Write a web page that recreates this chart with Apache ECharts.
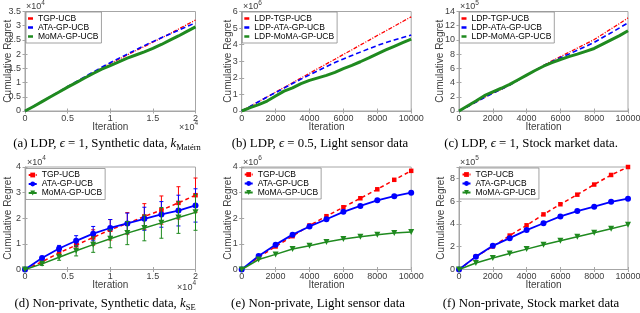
<!DOCTYPE html>
<html><head><meta charset="utf-8">
<script src="https://cdn.jsdelivr.net/npm/echarts@6/dist/echarts.min.js"></script>
<style>html,body{margin:0;padding:0;background:#fff}#c{width:640px;height:313px}</style>
</head><body><div id="c"></div>
<script>
// ---------------- data ----------------
// (a) LDP, synthetic (x in 1e4, y in 1e4)
const xA = [0,0.1,0.2,0.3,0.4,0.5,0.6,0.7,0.8,0.9,1.0,1.1,1.2,1.3,1.4,1.5,1.6,1.7,1.8,1.9,2.0];
const aTGP  = [0,0.16,0.33,0.5,0.67,0.84,1.01,1.18,1.35,1.51,1.67,1.82,1.97,2.12,2.27,2.42,2.57,2.72,2.88,3.04,3.2];
const aATA  = [0,0.17,0.34,0.51,0.68,0.86,1.03,1.2,1.37,1.54,1.7,1.85,2.0,2.15,2.3,2.44,2.58,2.71,2.84,2.97,3.1];
const aMoMA = [0,0.16,0.33,0.5,0.67,0.84,1.0,1.16,1.32,1.47,1.6,1.73,1.86,1.97,2.08,2.2,2.34,2.49,2.64,2.8,2.96];
// (b) LDP, light sensor (y in 1e6)
const xB = [0,500,1000,1500,2000,2500,3000,3500,4000,4500,5000,5500,6000,6500,7000,7500,8000,8500,9000,9500,10000];
const bTGP  = [0,0.28,0.57,0.85,1.14,1.42,1.7,1.99,2.27,2.56,2.84,3.12,3.41,3.69,3.98,4.26,4.55,4.83,5.11,5.4,5.68];
const bATA  = [0,0.28,0.56,0.84,1.11,1.38,1.66,1.92,2.18,2.43,2.68,2.92,3.14,3.35,3.55,3.75,3.95,4.12,4.28,4.43,4.58];
const bMoMA = [0,0.2,0.38,0.6,0.9,1.2,1.4,1.65,1.85,2.0,2.15,2.33,2.55,2.75,2.97,3.2,3.45,3.68,3.9,4.12,4.33];
// (c) LDP, stock market (y in 1e5)
const xC = [0,500,1000,1500,2000,2500,3000,3500,4000,4500,5000,5500,6000,6500,7000,7500,8000,8500,9000,9500,10000];
const cTGP  = [0,0.6,1.25,1.9,2.5,3.05,3.65,4.35,5.05,5.7,6.4,7.05,7.65,8.25,8.85,9.45,10.05,10.8,11.55,12.3,13.1];
const cATA  = [0,0.6,1.25,1.9,2.5,3.05,3.65,4.35,5.05,5.7,6.35,6.95,7.5,8.0,8.55,9.1,9.65,10.35,11.0,11.7,12.4];
const cMoMA = [0,0.7,1.4,2.15,2.7,3.2,3.75,4.4,5.05,5.7,6.3,6.8,7.25,7.65,8.0,8.4,8.8,9.4,10.0,10.6,11.3];
// (d) Non-private, synthetic (x in 1e4, y in 1e4) with error bars
const xD = [0,0.2,0.4,0.6,0.8,1.0,1.2,1.4,1.6,1.8,2.0];
const dTGP  = [0,0.3,0.65,0.95,1.25,1.55,1.8,2.07,2.32,2.6,2.9];
const dATA  = [0,0.45,0.82,1.12,1.4,1.62,1.8,1.98,2.15,2.3,2.5];
const dMoMA = [0,0.22,0.48,0.73,0.97,1.2,1.42,1.62,1.82,2.03,2.23];
const dTGPerr  = [0,0.05,0.1,0.15,0.3,0.4,0.42,0.5,0.55,0.63,0.67];
const dATAerr  = [0,0.06,0.12,0.2,0.28,0.33,0.4,0.45,0.5,0.6,0.65];
const dMoMAerr = [0,0.06,0.12,0.2,0.3,0.35,0.45,0.5,0.6,0.62,0.7];
// (e) Non-private, light sensor (y in 1e6)
const xE = [0,1000,2000,3000,4000,5000,6000,7000,8000,9000,10000];
const eTGP  = [0,0.48,0.9,1.3,1.72,2.08,2.43,2.78,3.13,3.5,3.85];
const eATA  = [0,0.53,0.97,1.36,1.68,1.96,2.25,2.48,2.7,2.86,3.0];
const eMoMA = [0,0.39,0.59,0.8,0.93,1.07,1.19,1.28,1.36,1.42,1.46];
// (f) Non-private, stock market (y in 1e5)
const xF = [0,1000,2000,3000,4000,5000,6000,7000,8000,9000,10000];
const fTGP  = [0,1.12,2.03,2.98,3.88,4.84,5.73,6.57,7.46,8.3,9.0];
const fATA  = [0,1.13,2.08,2.75,3.46,4.06,4.66,5.13,5.52,5.94,6.22];
const fMoMA = [0,0.57,1.01,1.4,1.79,2.18,2.53,2.87,3.22,3.58,3.94];

const namesPlain = ['TGP-UCB','ATA-GP-UCB','MoMA-GP-UCB'];
const namesLDP = ['LDP-TGP-UCB','LDP-ATA-GP-UCB','LDP-MoMA-GP-UCB'];
const yExps = ['4','6','5','4','6','5'];
const captions = [
 '{t|(a) LDP, }{i|ϵ}{t| = 1, Synthetic data, }{i|k}{s|Matérn}',
 '{t|(b) LDP, }{i|ϵ}{t| = 0.5, Light sensor data}',
 '{t|(c) LDP, }{i|ϵ}{t| = 1, Stock market data.}',
 '{t|(d) Non-private, Synthetic data, }{i|k}{s|SE}',
 '{t|(e) Non-private, Light sensor data}',
 '{t|(f) Non-private, Stock market data}'
];
const xTitle = 'Iteration', yTitle = 'Cumulative Regret';

// ---------------- layout/styles ----------------
const FONT = "'Liberation Sans', Arial, Helvetica, sans-serif";
const SERIF = "'Liberation Serif', 'DejaVu Serif', 'Times New Roman', serif";
const RED='#ff0000', BLUE='#0000ff', GREEN='#1f8a1f';
const FRAME='#a6a6a6', TXT='#404040';
const COLORS=[RED,BLUE,GREEN];

const grids = [
 {left:25, top:11.5, width:170.5, height:99.5},
 {left:241.7, top:11.5, width:169.5, height:99.5},
 {left:459, top:11.5, width:169, height:99.5},
 {left:25, top:167, width:170.5, height:102.5},
 {left:241.7, top:167, width:169.5, height:102.5},
 {left:459, top:167, width:169, height:102.5}
].map(g=>Object.assign({show:true, borderColor:FRAME, borderWidth:1, backgroundColor:'transparent', containLabel:false, outerBoundsMode:'none'}, g));

const xSpec = [{max:2,interval:0.5},{max:10000,interval:2000},{max:10000,interval:2000},{max:2,interval:0.5},{max:10000,interval:2000},{max:10000,interval:2000}];
const ySpec = [{max:3.5,interval:0.5},{max:6,interval:1},{max:14,interval:2},{max:4,interval:1},{max:4,interval:1},{max:9,interval:2}];
const yNameGap = [11.5,8,13.5,11.5,8,12.5];

const xAxes = [], yAxes = [];
for (let g=0; g<6; g++){
  const ymax = ySpec[g].max;
  xAxes.push({type:'value', gridIndex:g, min:0, max:xSpec[g].max, interval:xSpec[g].interval, position:'bottom',
    axisLine:{show:true, onZero:false, lineStyle:{color:FRAME, width:1}},
    axisTick:{show:true, inside:true, length:2.5, lineStyle:{color:FRAME}},
    axisLabel:{color:TXT, fontSize:9, fontFamily:FONT, margin:3, formatter:v=>String(v), showMinLabel:true, showMaxLabel:true},
    splitLine:{show:false},
    name:xTitle, nameLocation:'middle', nameGap:11, nameMoveOverlap:false,
    nameTextStyle:{fontSize:10, color:TXT, fontFamily:FONT}});
  yAxes.push({type:'value', gridIndex:g, min:0, max:ymax, interval:ySpec[g].interval, position:'left',
    axisLine:{show:true, onZero:false, lineStyle:{color:FRAME, width:1}},
    axisTick:{show:true, inside:true, length:2.5, lineStyle:{color:FRAME}},
    axisLabel:{color:TXT, fontSize:9, fontFamily:FONT, margin:4, formatter:v=>(v>ymax-1e-9 && ymax%ySpec[g].interval!==0)?'':String(v)},
    splitLine:{show:false},
    name:yTitle, nameLocation:'middle', nameGap:yNameGap[g], nameMoveOverlap:false,
    nameTextStyle:{fontSize:10, color:TXT, fontFamily:FONT}});
}
for (let g=0; g<6; g++){
  xAxes.push({type:'value', gridIndex:g, min:0, max:xSpec[g].max, interval:xSpec[g].interval, position:'top',
    axisLine:{show:false}, axisLabel:{show:false}, splitLine:{show:false},
    axisTick:{show:true, inside:true, length:2.5, lineStyle:{color:FRAME}}});
  yAxes.push({type:'value', gridIndex:g, min:0, max:ySpec[g].max, interval:ySpec[g].interval, position:'right',
    axisLine:{show:false}, axisLabel:{show:false}, splitLine:{show:false},
    axisTick:{show:true, inside:true, length:2.5, lineStyle:{color:FRAME}}});
}

function lineSeries(name, g, xs, ys, color, width, dash, symbol, symSize, z, rot){
  return {type:'line', name, xAxisIndex:g, yAxisIndex:g, data:xs.map((x,i)=>[x,ys[i]]),
    showSymbol:!!symbol, symbol:symbol||'none', symbolSize:symSize||0, symbolRotate:rot||0,
    itemStyle:{color}, lineStyle:{color, width, type:dash||'solid'}, z, silent:true,
    emphasis:{disabled:true}, animation:false};
}
function errSeries(g, xs, ys, errs, color, z){
  return {type:'custom', xAxisIndex:g, yAxisIndex:g, z, silent:true, animation:false,
    data: xs.map((x,i)=>[x, ys[i]-errs[i], ys[i]+errs[i]]),
    encode:{x:0, y:[1,2]},
    renderItem(params, api){
      const x = api.value(0);
      const lo = api.coord([x, api.value(1)]), hi = api.coord([x, api.value(2)]);
      const w = 2, st = {stroke:color, lineWidth:1};
      return {type:'group', children:[
        {type:'line', shape:{x1:lo[0],y1:lo[1],x2:hi[0],y2:hi[1]}, style:st},
        {type:'line', shape:{x1:lo[0]-w,y1:lo[1],x2:lo[0]+w,y2:lo[1]}, style:st},
        {type:'line', shape:{x1:hi[0]-w,y1:hi[1],x2:hi[0]+w,y2:hi[1]}, style:st}]};
    }};
}
const DASHDOT=[4,1.5,1,1.5], DASH=[5,3], DASH2=[4,3];
const sfx = ['(a)','(b)','(c)','(d)','(e)','(f)'];
const series = [];
function ldp(g, names, xs, t, a, m){
  series.push(lineSeries(names[0]+' '+sfx[g], g, xs, t, RED, 1.3, DASHDOT, null, 0, 2));
  series.push(lineSeries(names[1]+' '+sfx[g], g, xs, a, BLUE, 1.6, DASH, null, 0, 3));
  series.push(lineSeries(names[2]+' '+sfx[g], g, xs, m, GREEN, 3, 'solid', null, 0, 4));
}
ldp(0, namesPlain, xA, aTGP, aATA, aMoMA);
ldp(1, namesLDP, xB, bTGP, bATA, bMoMA);
ldp(2, namesLDP, xC, cTGP, cATA, cMoMA);
function np(g, xs, t, a, m){
  series.push(lineSeries(namesPlain[0]+' '+sfx[g], g, xs, t, RED, 1.5, DASH2, 'rect', 4.5, 2));
  series.push(lineSeries(namesPlain[1]+' '+sfx[g], g, xs, a, BLUE, 1.8, 'solid', 'circle', 6, 3));
  series.push(lineSeries(namesPlain[2]+' '+sfx[g], g, xs, m, GREEN, 1.5, 'solid', 'triangle', 6, 4, 180));
}
np(3, xD, dTGP, dATA, dMoMA);
series.push(errSeries(3, xD, dTGP, dTGPerr, RED, 2));
series.push(errSeries(3, xD, dATA, dATAerr, BLUE, 3));
series.push(errSeries(3, xD, dMoMA, dMoMAerr, GREEN, 4));
np(4, xE, eTGP, eATA, eMoMA);
np(5, xF, fTGP, fATA, fMoMA);

const legPos = [[26,12],[242.3,12],[459.5,12],[25.7,168.5],[241.7,168],[459.5,168]];
const legends = legPos.map((p,g)=>{
  const names = (g===1||g===2) ? namesLDP : namesPlain;
  const isNP = g>=3;
  return {orient:'vertical', left:p[0], top:p[1], padding:[2,3,2,2], itemGap:0,
    itemWidth: isNP?8:5, itemHeight: isNP?6:2.5, selectedMode:false, z:10,
    backgroundColor:'#fff', borderColor:'#8c8c8c', borderWidth:0.8, borderRadius:0,
    textStyle:{fontSize:8.5, color:'#000', fontFamily:FONT, lineHeight:9},
    data: names.map((n,k)=> isNP ? (n+' '+sfx[g]) : {name:n+' '+sfx[g], icon:'rect', itemStyle:{color:COLORS[k]}}),
    formatter: n=>n.replace(/ \([a-f]\)$/,'')};
});

function expText(x, y, p, align){
  return {type:'text', x, y, silent:true, z:20, style:{text:'{a|×10}{b|'+p+'}', align:align||'left', verticalAlign:'middle',
    rich:{a:{fontSize:9, fontFamily:FONT, fill:TXT, verticalAlign:'bottom', lineHeight:12},
          b:{fontSize:6.5, fontFamily:FONT, fill:TXT, verticalAlign:'top', lineHeight:12}}}};
}
const capPos = [[107,144],[320,144],[531,144],[105,304],[318,304],[531,304]];
const capRich = {
  t:{fontSize:12.8, fontFamily:SERIF, fill:'#000', verticalAlign:'middle', lineHeight:17},
  i:{fontSize:12.8, fontFamily:SERIF, fill:'#000', fontStyle:'italic', verticalAlign:'middle', lineHeight:17},
  s:{fontSize:8.5, fontFamily:SERIF, fill:'#000', verticalAlign:'bottom', lineHeight:17}
};
const graphics = [];
const yExpPos = [[26,5.5],[243,5.5],[460,5.5],[27,161],[243,161],[460,161]];
yExpPos.forEach((p,g)=>graphics.push(expText(p[0],p[1],yExps[g],'left')));
graphics.push(expText(198,126,'4','right'));
graphics.push(expText(196,286,'4','right'));
capPos.forEach((p,g)=>graphics.push({type:'text', x:p[0], y:p[1], silent:true,
  style:{text:captions[g], align:'center', verticalAlign:'middle', rich:capRich}}));

const chart = echarts.init(document.getElementById('c'), null, {renderer:'canvas'});
chart.setOption({
  animation:false,
  textStyle:{fontFamily:FONT},
  grid:grids, xAxis:xAxes, yAxis:yAxes, legend:legends, series, graphic:graphics
});
</script></body></html>
